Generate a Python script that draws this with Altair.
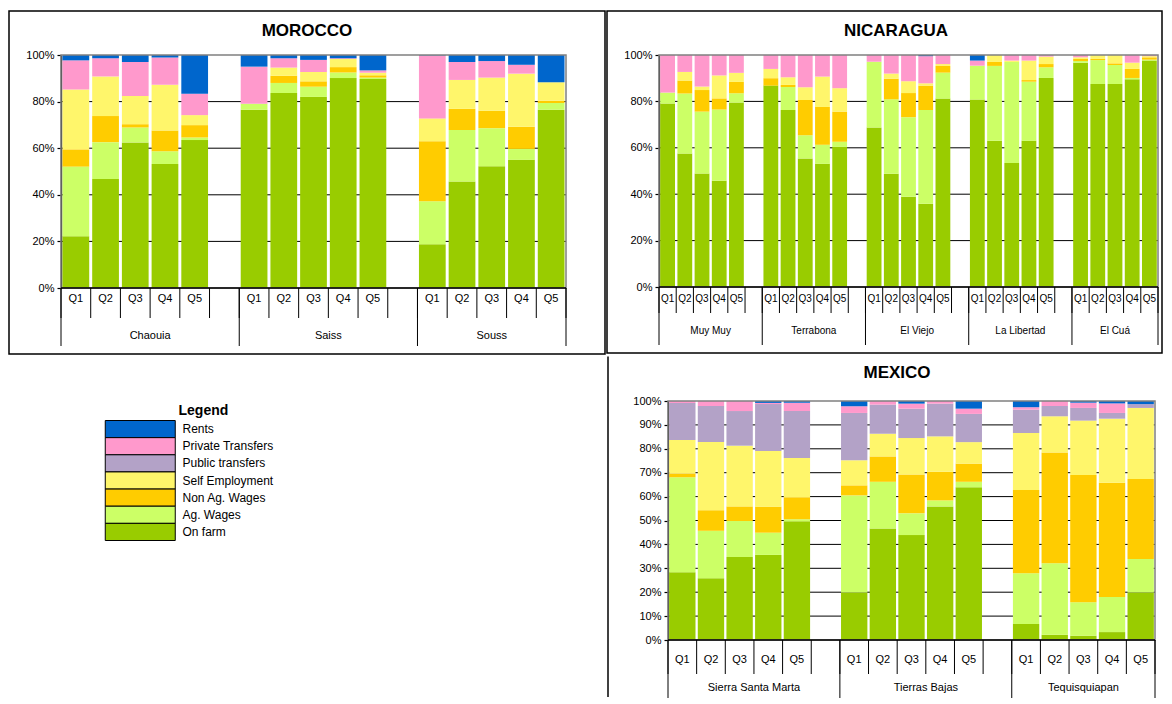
import altair as alt
import pandas as pd

FONT = "Liberation Sans"

SERIES = ["On farm", "Ag. Wages", "Non Ag. Wages", "Self Employment",
          "Public transfers", "Private Transfers", "Rents"]
COLORS = ["#99CC00", "#CCFF66", "#FFCC00", "#FFF66B", "#B3A2C7", "#FF99CC", "#0066CC"]
LEGEND_ORDER = ["Rents", "Private Transfers", "Public transfers", "Self Employment",
                "Non Ag. Wages", "Ag. Wages", "On farm"]
QUINTILES = ["Q1", "Q2", "Q3", "Q4", "Q5"]

MOROCCO_REGIONS = ["Chaouia", "Saiss", "Souss"]
MOROCCO_ON_FARM = [22.2, 46.8, 62.5, 53.2, 63.5, 76.5, 83.7, 82.0, 90.1, 89.7, 18.8, 45.7, 52.3, 55.0, 76.5]
MOROCCO_AG_WAGES = [29.9, 15.8, 6.4, 5.5, 1.1, 2.6, 4.3, 4.4, 2.4, 0.6, 18.4, 22.1, 16.3, 4.7, 2.9]
MOROCCO_NON_AG = [7.4, 11.2, 1.4, 8.9, 5.3, 0, 3.1, 2.3, 2.3, 1.0, 25.8, 9.1, 7.5, 9.5, 1.0]
MOROCCO_SELF_EMP = [25.7, 17.0, 12.1, 19.6, 4.3, 0, 3.5, 4.0, 3.5, 1.1, 9.8, 12.4, 14.2, 22.8, 7.9]
MOROCCO_PUBLIC = [0, 0, 0, 0, 0, 0, 0, 0, 0, 0, 0, 0, 0, 0, 0]
MOROCCO_PRIVATE = [12.5, 7.8, 14.6, 11.7, 9.2, 15.9, 4.0, 5.2, 0.3, 1.0, 27.0, 7.7, 7.1, 3.8, 0]
MOROCCO_RENTS = [2.3, 1.4, 3.0, 1.1, 16.6, 5.0, 1.4, 2.1, 1.4, 6.6, 0.2, 3.0, 2.6, 4.2, 11.7]

NICARAGUA_REGIONS = ["Muy Muy", "Terrabona", "El Viejo", "La Libertad", "El Cuá"]
NICARAGUA_ON_FARM = [79.1, 57.5, 48.9, 45.8, 79.5, 86.8, 76.3, 55.4, 53.1, 60.4,
                     68.7, 48.8, 38.9, 35.9, 81.2, 80.8, 63.0, 53.5, 63.0, 90.1,
                     96.7, 87.5, 87.5, 89.5, 97.6]
NICARAGUA_AG_WAGES = [4.7, 25.9, 26.7, 30.7, 4.0, 0, 9.9, 10.0, 8.2, 2.2,
                      28.4, 32.1, 34.3, 40.4, 11.2, 14.6, 32.3, 43.5, 25.5, 4.6,
                      0.7, 10.3, 8.2, 0.6, 0.4]
NICARAGUA_NON_AG = [0, 5.6, 9.3, 4.8, 4.9, 3.2, 0.9, 15.2, 16.3, 13.0,
                    0, 8.9, 10.4, 10.5, 2.9, 0, 1.7, 0, 0.7, 1.4,
                    0.9, 0.5, 0.7, 3.9, 1.0]
NICARAGUA_SELF_EMP = [0, 3.7, 1.5, 9.9, 3.9, 4.0, 3.3, 5.5, 13.1, 10.1,
                      0, 2.2, 5.1, 1.0, 0.8, 0, 3.0, 0.6, 8.4, 3.2,
                      0.7, 1.7, 3.6, 2.7, 0.5]
NICARAGUA_PUBLIC = [0] * 25
NICARAGUA_PRIVATE = [16.2, 7.3, 13.6, 8.8, 7.7, 6.0, 9.6, 13.9, 9.3, 14.3,
                     2.9, 8.0, 11.3, 11.7, 3.9, 2.2, 0, 2.4, 2.4, 0.7,
                     1.0, 0, 0, 3.3, 0.5]
NICARAGUA_RENTS = [0, 0, 0, 0, 0, 0, 0, 0, 0, 0,
                   0, 0, 0, 0.5, 0, 2.4, 0, 0, 0, 0,
                   0, 0, 0, 0, 0]

MEXICO_REGIONS = ["Sierra Santa Marta", "Tierras Bajas", "Tequisquiapan"]
MEXICO_ON_FARM = [28.3, 25.8, 34.7, 35.6, 49.7, 19.9, 46.7, 43.9, 55.9, 63.9, 6.7, 2.2, 1.8, 3.3, 19.9]
MEXICO_AG_WAGES = [39.8, 19.9, 15.1, 9.3, 0.8, 40.6, 19.5, 9.1, 2.5, 2.3, 21.2, 29.9, 14.0, 14.7, 14.0]
MEXICO_NON_AG = [1.6, 8.6, 6.1, 10.9, 9.2, 4.2, 10.6, 16.2, 12.0, 7.6, 34.9, 46.3, 53.2, 47.8, 33.5]
MEXICO_SELF_EMP = [14.0, 28.5, 25.4, 23.3, 16.5, 10.5, 9.5, 15.3, 14.8, 9.0, 23.8, 15.2, 22.8, 26.8, 29.7]
MEXICO_PUBLIC = [15.5, 15.1, 14.5, 19.6, 19.6, 19.8, 12.2, 12.3, 13.7, 11.8, 9.8, 4.3, 5.3, 2.4, 1.6]
MEXICO_PRIVATE = [0.8, 2.1, 4.2, 0.5, 3.5, 2.8, 1.5, 2.1, 1.1, 2.2, 1.0, 2.1, 2.2, 4.0, 0]
MEXICO_RENTS = [0, 0, 0, 0.8, 0.7, 2.2, 0, 1.1, 0, 3.2, 2.6, 0, 0.7, 1.0, 1.3]

Y_TICKS_20 = [0, 20, 40, 60, 80, 100]
Y_TICKS_10 = [0, 10, 20, 30, 40, 50, 60, 70, 80, 90, 100]


def build_frames(regions, series_values, pad):
    rows, qrows = [], []
    n_bars = len(regions) * 5
    for i in range(n_bars):
        g, q = divmod(i, 5)
        slot = g * 6 + q
        total = sum(sv[i] for sv in series_values)
        y0 = 0.0
        for k, s in enumerate(SERIES):
            v = series_values[k][i] / total * 100.0
            rows.append(dict(region=regions[g], q=QUINTILES[q], series=s, value=v,
                             y0=y0, y1=y0 + v, x0=slot + pad, x1=slot + 1 - pad))
            y0 += v
        qrows.append(dict(q=QUINTILES[q], xc=slot + 0.5))
    n_slots = len(regions) * 6 - 1
    rrows = []
    for g, r in enumerate(regions):
        xc = g * 6 + (3 if g < len(regions) - 1 else 2.5)
        rrows.append(dict(region=r, xc=xc))
    ticks = pd.DataFrame({"b": list(range(n_slots + 1))})
    longs = pd.DataFrame({"b": [g * 6 for g in range(len(regions))] + [n_slots]})
    return pd.DataFrame(rows), pd.DataFrame(qrows), pd.DataFrame(rrows), ticks, longs, n_slots


def panel(regions, series_values, pad, W, H, yticks, title, title_x, title_y,
          frame, q_font, reg_font, q_dy, tick_len, reg_dy, long_len, left_line=None):
    bars_df, q_df, r_df, ticks_df, longs_df, n_slots = build_frames(regions, series_values, pad)
    xs = alt.Scale(domain=[0, n_slots], nice=False, zero=False)
    ys = alt.Scale(domain=[0, 100], nice=False, zero=True)
    y_axis = alt.Axis(values=yticks, labelExpr="datum.value + '%'", grid=False,
                      domainColor="black", domainWidth=1.5, tickColor="black", tickSize=4,
                      tickWidth=1.2, labelFont=FONT, labelFontSize=11, labelColor="black",
                      title=None, labelPadding=3)
    one = pd.DataFrame({"k": [0]})
    grid_df = pd.DataFrame({"v": [t for t in yticks if 0 < t < 100]})

    grid = alt.Chart(grid_df).mark_rule(color="black", strokeWidth=1).encode(
        y=alt.Y("v:Q", scale=ys, axis=y_axis), x=alt.value(0), x2=alt.value(W))
    bars = alt.Chart(bars_df).mark_rect().encode(
        x=alt.X("x0:Q", scale=xs, axis=None), x2="x1:Q",
        y=alt.Y("y0:Q", scale=ys, axis=y_axis), y2="y1:Q",
        color=alt.Color("series:N", scale=alt.Scale(domain=SERIES, range=COLORS), legend=None))
    border = alt.Chart(one).mark_rect(fill="white", fillOpacity=0, stroke="#808080", strokeWidth=1.5).encode(
        x=alt.value(0), x2=alt.value(W), y=alt.value(0), y2=alt.value(H))
    baseline = alt.Chart(one).mark_rule(color="black", strokeWidth=1.5).encode(
        x=alt.value(0), x2=alt.value(W), y=alt.value(H))
    ticks = alt.Chart(ticks_df).mark_rule(color="black", strokeWidth=1).encode(
        x=alt.X("b:Q", scale=xs, axis=None), y=alt.value(H), y2=alt.value(H + tick_len))
    longs = alt.Chart(longs_df).mark_rule(color="black", strokeWidth=1).encode(
        x=alt.X("b:Q", scale=xs, axis=None), y=alt.value(H), y2=alt.value(H + long_len))
    qlab = alt.Chart(q_df).mark_text(font=FONT, fontSize=q_font, color="black", baseline="middle").encode(
        x=alt.X("xc:Q", scale=xs, axis=None), y=alt.value(H + q_dy), text="q:N")
    rlab = alt.Chart(r_df).mark_text(font=FONT, fontSize=reg_font, color="black", baseline="middle").encode(
        x=alt.X("xc:Q", scale=xs, axis=None), y=alt.value(H + reg_dy), text="region:N")
    ttl = alt.Chart(one).mark_text(font=FONT, fontSize=17, fontWeight="bold", color="black",
                                   baseline="middle").encode(
        x=alt.value(title_x), y=alt.value(title_y), text=alt.value(title))
    layers = [grid, bars, border, baseline, ticks, longs, qlab, rlab, ttl]
    if frame is not None:
        fx0, fy0, fx1, fy1 = frame
        fr = alt.Chart(one).mark_rect(fill="white", fillOpacity=0, stroke="black", strokeWidth=1.5).encode(
            x=alt.value(fx0), x2=alt.value(fx1), y=alt.value(fy0), y2=alt.value(fy1))
        layers.append(fr)
    if left_line is not None:
        lx, ly0, ly1 = left_line
        ll = alt.Chart(one).mark_rule(color="black", strokeWidth=1.5).encode(
            x=alt.value(lx), y=alt.value(ly0), y2=alt.value(ly1))
        layers.append(ll)
    return alt.layer(*layers).properties(width=W, height=H)


morocco = panel(MOROCCO_REGIONS,
                [MOROCCO_ON_FARM, MOROCCO_AG_WAGES, MOROCCO_NON_AG, MOROCCO_SELF_EMP,
                 MOROCCO_PUBLIC, MOROCCO_PRIVATE, MOROCCO_RENTS],
                pad=0.05, W=505, H=233, yticks=Y_TICKS_20, title="MOROCCO",
                title_x=246, title_y=-24, frame=(-52, -44, 544, 299),
                q_font=11, reg_font=11, q_dy=11, tick_len=30, reg_dy=48, long_len=58)

nicaragua = panel(NICARAGUA_REGIONS,
                  [NICARAGUA_ON_FARM, NICARAGUA_AG_WAGES, NICARAGUA_NON_AG, NICARAGUA_SELF_EMP,
                   NICARAGUA_PUBLIC, NICARAGUA_PRIVATE, NICARAGUA_RENTS],
                  pad=0.07, W=499, H=232, yticks=Y_TICKS_20, title="NICARAGUA",
                  title_x=237, title_y=-24, frame=(-52, -44, 503, 298),
                  q_font=10, reg_font=10, q_dy=12, tick_len=26, reg_dy=44, long_len=58)

mexico = panel(MEXICO_REGIONS,
               [MEXICO_ON_FARM, MEXICO_AG_WAGES, MEXICO_NON_AG, MEXICO_SELF_EMP,
                MEXICO_PUBLIC, MEXICO_PRIVATE, MEXICO_RENTS],
               pad=0.04, W=487, H=239, yticks=Y_TICKS_10, title="MEXICO",
               title_x=229, title_y=-28, frame=None,
               q_font=11, reg_font=11, q_dy=20, tick_len=34, reg_dy=48, long_len=58,
               left_line=(-60, -44.5, 296))

# ---------------- legend panel (origin aligned with the Mexico plot top / Morocco plot left) -----
leg_df = pd.DataFrame({"series": LEGEND_ORDER})
one = pd.DataFrame({"k": [0]})
leg_y = alt.Y("series:N", scale=alt.Scale(domain=LEGEND_ORDER, range=[19.5, 139.5],
                                           paddingInner=0, paddingOuter=0), axis=None)
leg_bg = alt.Chart(one).mark_rect(color="white").encode(
    x=alt.value(-52.75), x2=alt.value(545.25), y=alt.value(-44.5), y2=alt.value(280))
leg_sw = alt.Chart(leg_df).mark_rect(stroke="black", strokeWidth=1).encode(
    y=leg_y, x=alt.value(44.25), x2=alt.value(114.25),
    color=alt.Color("series:N", scale=alt.Scale(domain=SERIES, range=COLORS), legend=None))
leg_tx = alt.Chart(leg_df).mark_text(font=FONT, fontSize=12, color="black", align="left",
                                     baseline="middle").encode(
    y=leg_y, x=alt.value(121.5), text="series:N")
leg_title = alt.Chart(one).mark_text(font=FONT, fontSize=14, fontWeight="bold", color="black",
                                     align="left", baseline="middle").encode(
    x=alt.value(117.5), y=alt.value(9.5), text=alt.value("Legend"))
legend_panel = alt.layer(leg_bg, leg_sw, leg_tx, leg_title).properties(width=545, height=239)

top = alt.hconcat(morocco, nicaragua, spacing=0)
bottom = alt.hconcat(legend_panel, mexico, spacing=0)
chart = alt.vconcat(top, bottom, spacing=0).properties(
    padding={"left": 0, "top": 2, "right": 0, "bottom": 0}
).configure_view(stroke=None).configure_concat(spacing=0)

chart.save("out.html", embed_options={"renderer": "svg", "actions": False})
